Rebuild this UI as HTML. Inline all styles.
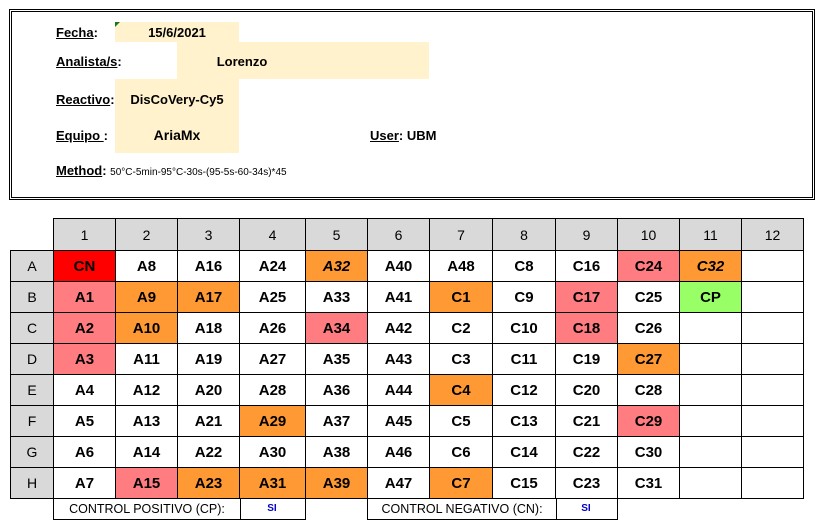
<!DOCTYPE html>
<html><head><meta charset="utf-8"><style>
body{margin:0;width:823px;height:531px;background:#fff;position:relative;font-family:"Liberation Sans",sans-serif;overflow:hidden}
.a{position:absolute}
.box{left:9px;top:9px;width:800px;height:185px;border:3px double #000}
.bg{background:#FFF2CC;position:absolute}
.lbl{position:absolute;font-weight:bold;font-size:13px;color:#000}
.lbl u{text-decoration:underline}
.val{position:absolute;font-weight:bold;font-size:13px;text-align:center}
table{position:absolute;left:10px;top:218px;border-collapse:collapse}
td{border:1px solid #000;height:30px;text-align:center;font-weight:bold;font-size:15px;padding:0}
tr:first-child td{height:31px}
td.h{background:#D9D9D9;font-weight:normal;font-size:14px}
td.e{border:none}
.r{background:#FF0000}.p{background:#FF7C80}.o{background:#FF9933}.g{background:#99FF66}
i{font-style:italic}
.ft{position:absolute;top:499px;height:20px;border:1px solid #000;border-top:none;font-size:12.5px;line-height:20px}
</style></head><body>
<div class="a box"></div>
<div class="bg" style="left:115px;top:22px;width:124px;height:20px"></div>
<div class="a" style="left:115px;top:22px;width:0;height:0;border-top:5px solid #1a7a1a;border-right:5px solid transparent"></div>
<div class="bg" style="left:177px;top:42px;width:252px;height:37px"></div>
<div class="bg" style="left:115px;top:79px;width:124px;height:74px"></div>
<div class="lbl" style="left:56px;top:25px"><u>Fecha</u>:</div>
<div class="val" style="left:115px;top:25px;width:124px">15/6/2021</div>
<div class="lbl" style="left:56px;top:54px"><u>Analista/s</u>:</div>
<div class="val" style="left:177px;top:54px;width:130px">Lorenzo</div>
<div class="lbl" style="left:56px;top:92px"><u>Reactivo</u>:</div>
<div class="val" style="left:115px;top:92px;width:124px">DisCoVery-Cy5</div>
<div class="lbl" style="left:56px;top:128px"><u>Equipo </u>:</div>
<div class="val" style="left:115px;top:127px;width:124px;font-size:14px">AriaMx</div>
<div class="lbl" style="left:370px;top:128px"><u>User</u>: UBM</div>
<div class="lbl" style="left:56px;top:163px;font-size:13px"><u>Method</u>: <span style="font-weight:normal;font-size:10px">50°C-5min-95°C-30s-(95-5s-60-34s)*45</span></div>
<table>
<colgroup><col style="width:43px"><col style="width:62px"><col style="width:62px"><col style="width:62px"><col style="width:66px"><col style="width:62px"><col style="width:62px"><col style="width:63px"><col style="width:63px"><col style="width:62px"><col style="width:62px"><col style="width:62px"><col style="width:62px"></colgroup>
<tr><td class="e"></td><td class="h">1</td><td class="h">2</td><td class="h">3</td><td class="h">4</td><td class="h">5</td><td class="h">6</td><td class="h">7</td><td class="h">8</td><td class="h">9</td><td class="h">10</td><td class="h">11</td><td class="h">12</td></tr>
<tr><td class="h">A</td><td class="r">CN</td><td>A8</td><td>A16</td><td>A24</td><td class="o"><i>A32</i></td><td>A40</td><td>A48</td><td>C8</td><td>C16</td><td class="p">C24</td><td class="o"><i>C32</i></td><td></td></tr>
<tr><td class="h">B</td><td class="p">A1</td><td class="o">A9</td><td class="o">A17</td><td>A25</td><td>A33</td><td>A41</td><td class="o">C1</td><td>C9</td><td class="p">C17</td><td>C25</td><td class="g">CP</td><td></td></tr>
<tr><td class="h">C</td><td class="p">A2</td><td class="o">A10</td><td>A18</td><td>A26</td><td class="p">A34</td><td>A42</td><td>C2</td><td>C10</td><td class="p">C18</td><td>C26</td><td></td><td></td></tr>
<tr><td class="h">D</td><td class="p">A3</td><td>A11</td><td>A19</td><td>A27</td><td>A35</td><td>A43</td><td>C3</td><td>C11</td><td>C19</td><td class="o">C27</td><td></td><td></td></tr>
<tr><td class="h">E</td><td>A4</td><td>A12</td><td>A20</td><td>A28</td><td>A36</td><td>A44</td><td class="o">C4</td><td>C12</td><td>C20</td><td>C28</td><td></td><td></td></tr>
<tr><td class="h">F</td><td>A5</td><td>A13</td><td>A21</td><td class="o">A29</td><td>A37</td><td>A45</td><td>C5</td><td>C13</td><td>C21</td><td class="p">C29</td><td></td><td></td></tr>
<tr><td class="h">G</td><td>A6</td><td>A14</td><td>A22</td><td>A30</td><td>A38</td><td>A46</td><td>C6</td><td>C14</td><td>C22</td><td>C30</td><td></td><td></td></tr>
<tr><td class="h">H</td><td>A7</td><td class="p">A15</td><td class="o">A23</td><td class="o">A31</td><td class="o">A39</td><td>A47</td><td class="o">C7</td><td>C15</td><td>C23</td><td>C31</td><td></td><td></td></tr>
</table>
<div class="ft" style="left:53px;width:186px;text-align:center">CONTROL POSITIVO (CP):</div>
<div class="ft" style="left:239px;width:66px;border-left:none;text-align:center;color:#0000cc;font-size:10px;font-weight:bold">SI</div>
<div class="ft" style="left:367px;width:188px;text-align:center">CONTROL NEGATIVO (CN):</div>
<div class="ft" style="left:555px;width:62px;border-left:none;text-align:center;color:#0000cc;font-size:10px;font-weight:bold">SI</div>
</body></html>
